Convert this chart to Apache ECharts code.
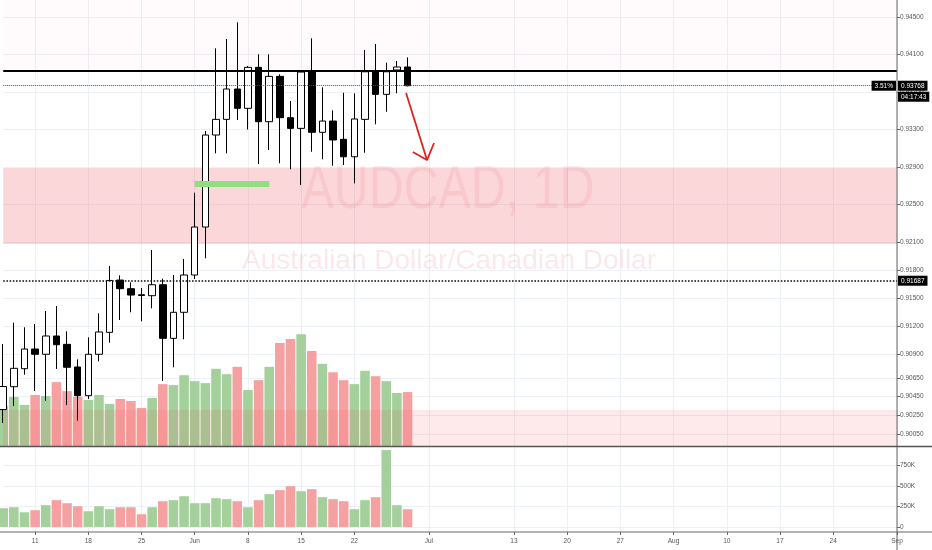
<!DOCTYPE html>
<html>
<head>
<meta charset="utf-8">
<script src="https://cdn.jsdelivr.net/npm/echarts@6/dist/echarts.min.js"></script>
<style>
  html, body { margin: 0; padding: 0; background: #fff; }
  #chart { width: 932px; height: 550px; }
</style>
</head>
<body>
<div id="chart"></div>
<script>
// trading days shown on the time axis (2020)
var days = [
  '05-06','05-07','05-08','05-11','05-12','05-13','05-14','05-15','05-18','05-19','05-20','05-21','05-22',
  '05-25','05-26','05-27','05-28','05-29','06-01','06-02','06-03','06-04','06-05','06-08','06-09','06-10',
  '06-11','06-12','06-15','06-16','06-17','06-18','06-19','06-22','06-23','06-24','06-25','06-26','06-29',
  '06-30','07-01','07-02','07-03','07-06','07-07','07-08','07-09','07-10','07-13','07-14','07-15','07-16',
  '07-17','07-20','07-21','07-22','07-23','07-24','07-27','07-28','07-29','07-30','07-31','08-03','08-04',
  '08-05','08-06','08-07','08-10','08-11','08-12','08-13','08-14','08-17','08-18','08-19','08-20','08-21',
  '08-24','08-25','08-26','08-27','08-28','08-31','09-01'
];
var dayLabels = {
  '05-11': '11', '05-18': '18', '05-25': '25', '06-01': 'Jun', '06-08': '8', '06-15': '15',
  '06-22': '22', '07-01': 'Jul', '07-13': '13', '07-20': '20', '07-27': '27', '08-03': 'Aug',
  '08-10': '10', '08-17': '17', '08-24': '24', '09-01': 'Sep'
};

// AUDCAD daily candles
var opens  = [0.90312,0.90556,0.90748,0.90958,0.90902,0.91097,0.91008,0.90766,0.90460,0.90902,0.91136,0.91694,0.91602,
              0.91537,0.91527,0.91644,0.91072,0.91350,0.91748,0.92260,0.93242,0.93409,0.93733,0.93527,0.93964,0.93384,
              0.93868,0.93427,0.93313,0.93914,0.93271,0.93391,0.93196,0.93010,0.93409,0.93917,0.93676,0.93936,0.93968];
var closes = [0.90558,0.90752,0.90958,0.90902,0.91097,0.91004,0.90763,0.90460,0.90902,0.91140,0.91690,0.91602,0.91534,
              0.91529,0.91644,0.91072,0.91350,0.91748,0.92260,0.93242,0.93409,0.93733,0.93527,0.93964,0.93384,0.93868,
              0.93427,0.93313,0.93914,0.93271,0.93391,0.93189,0.93010,0.93413,0.93917,0.93676,0.93917,0.93968,0.93768];
var highs  = [0.91011,0.91239,0.91190,0.91225,0.91364,0.91417,0.91147,0.90848,0.91083,0.91339,0.91844,0.91745,0.91670,
              0.91609,0.92015,0.91708,0.91748,0.91919,0.92626,0.93285,0.94167,0.94266,0.94445,0.93978,0.94103,0.94103,
              0.93890,0.93605,0.93925,0.94274,0.93751,0.93505,0.93693,0.93687,0.94149,0.94213,0.94013,0.94032,0.94071];
var lows   = [0.90168,0.90350,0.90684,0.90510,0.90406,0.90745,0.90360,0.90193,0.90425,0.90827,0.91025,0.91268,0.91350,
              0.91254,0.91392,0.90617,0.90763,0.91062,0.91705,0.91926,0.93047,0.93047,0.93402,0.93301,0.92932,0.93082,
              0.92940,0.92876,0.92708,0.93064,0.92983,0.92914,0.92922,0.92726,0.93053,0.93356,0.93490,0.93687,0.93760];

// volume overlay in the price pane (own hidden scale) and volume pane (units)
var overlayVol = [81,99,83,103,101,129,111,99,93,103,85,95,91,77,97,125,123,143,131,127,156,145,160,113,133,160,
                  208,216,226,192,166,149,133,125,152,141,131,107,109];
var volume = [228000,240000,179000,204000,265000,326000,289000,252000,191000,252000,216000,240000,240000,155000,
              240000,313000,326000,374000,289000,289000,350000,338000,313000,240000,326000,399000,448000,496000,
              435000,460000,362000,338000,313000,216000,326000,362000,935000,265000,216000];

var priceTicks = [0.9005,0.9025,0.9045,0.9065,0.909,0.912,0.915,0.918,0.921,0.925,0.929,0.933,0.937,0.941,0.945];
var volTicks = [0, 250000, 500000, 750000];

// drawings
var lastPrice = 0.93768, lastChange = '3.51%', countdown = '04:17:43';
var resistance = 0.93928;
var supportLine = 0.91687;
var zoneMain = [0.92079, 0.92890];
var zoneLow = 0.90307;
var greenMark = [[18, 0.92719], [25, 0.92719]];
var arrowShaft = [[37.86, 0.93690], [39.83, 0.92975]];
var arrowHead = [[38.5, 0.93060], [39.83, 0.92975], [40.49, 0.93157]];

var PRICE_MIN = 0.89923, PRICE_MAX = 0.94683;
var GL = 3.2, GW = 893.8, MAIN_H = 446, SUB_TOP = 448, SUB_H = 84;
var UP_VOL = '#a3d09b', DOWN_VOL = '#f5a1a1';
var FONT = '"Liberation Sans", Arial, sans-serif';

var candles = opens.map(function (o, i) { return [o, closes[i], lows[i], highs[i]]; });
function volColor(p) { return closes[p.dataIndex] >= opens[p.dataIndex] ? UP_VOL : DOWN_VOL; }
function isLabelDay(idx, val) { return dayLabels[val] !== undefined; }

var chart = echarts.init(document.getElementById('chart'));
chart.setOption({
  animation: false,
  backgroundColor: '#fff',
  grid: [
    { left: GL, top: 0, width: GW, height: MAIN_H },
    { left: GL, top: SUB_TOP, width: GW, height: SUB_H }
  ],
  xAxis: [
    { type: 'category', gridIndex: 0, data: days, boundaryGap: false,
      axisLine: { show: false, onZero: false }, axisTick: { show: false }, axisLabel: { show: false },
      splitLine: { show: true, interval: isLabelDay, lineStyle: { color: '#edf0f4', width: 1 } } },
    { type: 'category', gridIndex: 1, data: days, boundaryGap: false,
      axisLine: { show: false, onZero: false },
      axisTick: { show: true, interval: isLabelDay, length: 3, lineStyle: { color: '#666' } },
      axisLabel: { interval: isLabelDay, margin: 6, fontSize: 6.5, color: '#555', fontFamily: FONT,
                   formatter: function (v) { return dayLabels[v] || ''; } },
      splitLine: { show: true, interval: isLabelDay, lineStyle: { color: '#edf0f4', width: 1 } } },
    { type: 'value', gridIndex: 0, min: 0, max: days.length - 1, show: false,
      axisLine: { onZero: false } }
  ],
  yAxis: [
    { type: 'value', gridIndex: 0, position: 'right', min: PRICE_MIN, max: PRICE_MAX,
      axisLine: { show: false, onZero: false },
      axisTick: { show: true, length: 3, customValues: priceTicks, lineStyle: { color: '#666' } },
      axisLabel: { customValues: priceTicks, margin: 3, fontSize: 6.5, color: '#555', fontFamily: FONT,
                   formatter: function (v) { return v.toFixed(5); } },
      splitLine: { show: true, lineStyle: { color: '#edf0f4', width: 1 } } },
    { type: 'value', gridIndex: 0, min: 0, max: 901, show: false, axisLine: { onZero: false },
      splitLine: { show: false } },
    { type: 'value', gridIndex: 1, position: 'right', min: -61000, max: 960000,
      axisLine: { show: false, onZero: false },
      axisTick: { show: true, length: 3, customValues: volTicks, lineStyle: { color: '#666' } },
      axisLabel: { customValues: volTicks, margin: 3, fontSize: 6.5, color: '#555', fontFamily: FONT,
                   formatter: function (v) { return v === 0 ? '0' : (v / 1000) + 'K'; } },
      splitLine: { show: true, lineStyle: { color: '#edf0f4', width: 1 } } }
  ],
  series: [
    { name: 'overlay volume', type: 'bar', xAxisIndex: 0, yAxisIndex: 1, data: overlayVol,
      barWidth: '90%', clip: false, z: 2, itemStyle: { color: volColor } },
    { name: 'low zone', type: 'line', xAxisIndex: 2, yAxisIndex: 0, z: 3, symbol: 'none',
      data: [[-1, zoneLow], [days.length, zoneLow]],
      lineStyle: { width: 0 }, areaStyle: { color: 'rgba(242,54,69,0.15)', origin: 'start' } },
    { name: 'AUDCAD', type: 'candlestick', xAxisIndex: 0, yAxisIndex: 0, data: candles,
      barWidth: 7, clip: false, z: 4,
      itemStyle: { color: '#ffffff', color0: '#000000', borderColor: '#000000', borderColor0: '#000000', borderWidth: 1 },
      markArea: {
        silent: true,
        data: [
          [{ yAxis: zoneMain[1], itemStyle: { color: 'rgba(242,54,69,0.2)' } }, { yAxis: zoneMain[0] }],
          [{ yAxis: PRICE_MAX, itemStyle: { color: 'rgba(242,54,69,0.025)' } }, { yAxis: resistance }]
        ]
      },
      markLine: {
        silent: true, precision: 5, symbol: ['none', 'none'], label: { show: false },
        data: [
          { yAxis: resistance, lineStyle: { color: '#000', width: 2.2, type: 'solid' } },
          { yAxis: lastPrice, lineStyle: { color: '#555', width: 1, type: 'dotted' } },
          { yAxis: supportLine, lineStyle: { color: '#111', width: 1.6, type: 'dotted' } }
        ]
      } },
    { name: 'volume', type: 'bar', xAxisIndex: 1, yAxisIndex: 2, data: volume,
      barWidth: '90%', clip: false, itemStyle: { color: volColor } },
    { name: 'mark', type: 'line', xAxisIndex: 2, yAxisIndex: 0, z: 5, symbol: 'none', data: greenMark,
      lineStyle: { color: '#8fdf80', width: 6, cap: 'butt' } },
    { name: 'arrow', type: 'line', xAxisIndex: 2, yAxisIndex: 0, z: 5, symbol: 'none', data: arrowShaft,
      lineStyle: { color: '#e3211c', width: 1.8 } },
    { name: 'arrow head', type: 'line', xAxisIndex: 2, yAxisIndex: 0, z: 5, symbol: 'none', data: arrowHead,
      lineStyle: { color: '#e3211c', width: 1.8 } }
  ]
});

// pane chrome, watermark and price tags
var yLast = chart.convertToPixel({ yAxisIndex: 0 }, lastPrice);
var ySupport = chart.convertToPixel({ yAxisIndex: 0 }, supportLine);
var axisX = GL + GW;
var subBottom = SUB_TOP + SUB_H;

function tag(text, x, y, align) {
  return {
    type: 'text', z: 100, x: x, y: y,
    style: { text: text, fill: '#fff', backgroundColor: '#000', padding: [2, 3, 1, 3],
             font: '6.5px ' + FONT, align: align, textAlign: align,
             verticalAlign: 'middle', textVerticalAlign: 'middle' }
  };
}

chart.setOption({
  graphic: { elements: [
    { type: 'text', z: 0, silent: true, x: 448, y: 191, scaleX: 0.78,
      style: { text: 'AUDCAD, 1D', fill: 'rgba(225,80,90,0.1)', font: '62px ' + FONT,
               align: 'center', textAlign: 'center', verticalAlign: 'middle', textVerticalAlign: 'middle' } },
    { type: 'text', z: 0, silent: true, x: 449, y: 261, scaleX: 1.0,
      style: { text: 'Australian Dollar/Canadian Dollar', fill: 'rgba(225,80,90,0.13)', font: '28px ' + FONT,
               align: 'center', textAlign: 'center', verticalAlign: 'middle', textVerticalAlign: 'middle' } },
    { type: 'line', z: 50, silent: true, shape: { x1: axisX, y1: 0, x2: axisX, y2: 550 },
      style: { stroke: '#666', lineWidth: 1 } },
    { type: 'line', z: 50, silent: true, shape: { x1: 0, y1: MAIN_H + 0.5, x2: 932, y2: MAIN_H + 0.5 },
      style: { stroke: '#555', lineWidth: 1.5 } },
    { type: 'line', z: 50, silent: true, shape: { x1: 0, y1: subBottom, x2: 932, y2: subBottom },
      style: { stroke: '#666', lineWidth: 1 } },
    tag(lastChange, axisX - 1, yLast, 'right'),
    tag(lastPrice.toFixed(5), axisX + 1, yLast, 'left'),
    tag(countdown, axisX + 1, yLast + 11, 'left'),
    tag(supportLine.toFixed(5), axisX + 1, ySupport, 'left')
  ] }
});
</script>
</body>
</html>
